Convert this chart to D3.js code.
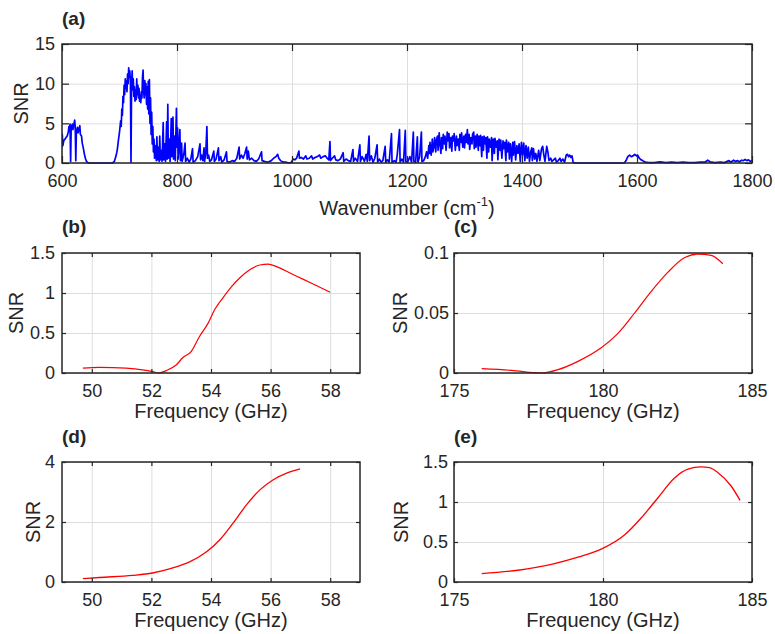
<!DOCTYPE html>
<html>
<head>
<meta charset="utf-8">
<script src="https://cdn.jsdelivr.net/npm/d3@7"></script>
<style>
  body { margin: 0; background: #fff; }
  text { font-family: "Liberation Sans", Arial, Helvetica, sans-serif; fill: #262626; }
</style>
</head>
<body>
<div id="chart"></div>
<script>
// ---- data ----
// (a) SNR spectrum vs wavenumber (cm-1)
const specA = [
  [600,2.0],[600.5,3.6],[601.5,2.2],[603,2.8],[605,3.0],[607,3.2],[609,3.4],[611,3.9],[612,4.6],[613,4.0],[614,4.9],[615,0.2],[616,4.5],[618,4.9],[619,4.2],[621,5.0],[622,5.4],[623,4.6],[624,0.3],[625,4.0],[627,4.5],[628,3.8],[630,4.4],[631,4.7],[632,3.6],[634,3.4],[635,2.6],[637,1.9],[639,1.1],[641,0.5],[643,0.15],[646,0],
  [660,0],[675,0],[688,0],[691,0.2],[694,0.9],[696,1.6],[698,2.8],[700,3.9],[702,5.3],[703,4.6],[704,6.8],[705,6.0],[706,8.4],[707,7.6],[708,9.8],[709,8.6],[710,10.6],[711,9.4],[712,10.3],[713,9.0],[714,11.2],[715,10.0],[716,12.0],[717,10.8],[718,11.6],[719,10.2],[720,0.1],[721,9.8],[722,11.6],[723,9.2],[724,10.6],[725,8.4],[726,9.6],[727,7.8],[728,9.2],[729,8.0],[730,10.6],[731,8.6],[732,9.8],[733,8.2],[734,9.4],[735,7.8],[736,8.6],[737,7.6],[738,9.0],[739,8.2],[740,10.8],[741,11.7],[742,9.0],[743,8.2],[744,10.4],[745,8.6],[746,10.0],[747,7.4],[748,9.6],[749,6.8],[750,10.3],[751,6.2],[752,10.5],[753,5.0],[754,8.2],[755,3.6],[756,6.4],[757,2.4],[758,4.6],[759,1.4],[760,3.0],[761,0.6],[763,2.2],[764,0.3],[765,3.3],[766,0.4],[768,2.0],[769,0.2],[770,3.4],[771,0.4],[773,1.6],[774,0.2],[776,5.1],[777,0.4],[779,2.4],[780,0.2],[782,5.2],[783,0.5],[784,7.4],[785,0.6],[787,3.0],[788,0.2],[790,5.6],[791,0.8],[793,5.8],[794,0.5],[796,3.4],[797,0.3],[799,6.9],[800,2.0],[801,4.4],[802,0.5],[804,2.8],[805,4.2],[806,0.3],[808,2.5],[809,0.2],[812,1.2],[814,2.5],[815,0.2],[818,0.6],[821,0.1],[824,0.5],[827,1.8],[828,0.1],[832,0.3],[836,0.8],[840,2.4],[841,0.4],[843,1.0],[845,0.3],[847,1.9],[848,0.2],[850,1.2],[852,4.6],[853,0.6],[855,1.0],[857,0.2],[860,0.4],[864,1.5],[865,0.2],[868,0.5],[872,1.9],[873,0.3],[876,0.8],[878,0.1],[882,0.4],[886,1.4],[887,0.2],[891,0.1],[896,0.3],[900,0.2],[904,0.6],[908,2.0],[909,0.5],[912,1.0],[915,0.6],[918,1.2],[921,2.0],[922,0.5],[924,1.5],[926,0.4],[930,0.6],[934,0.3],[938,0.2],[942,0.5],[947,1.4],[948,0.3],[952,0.2],[958,0.1],[964,0.3],[968,0.6],[972,0.8],[975,1.1],[977,0.6],[980,0.3],[985,0.1],[990,0.1],[995,0],[999,0.1],
  [1002,0.5],[1005,0.4],[1008,0.6],[1012,1.5],[1013,0.6],[1016,0.7],[1020,0.5],[1024,0.9],[1026,0.5],[1030,0.6],[1034,0.9],[1036,0.5],[1040,0.7],[1044,0.8],[1048,1.0],[1050,0.6],[1054,0.8],[1058,0.9],[1061,0.6],[1064,0.4],[1066,2.7],[1067,0.3],[1070,0.6],[1074,0.9],[1076,0.4],[1080,0.3],[1084,0.5],[1089,1.3],[1090,0.2],[1094,0.5],[1098,0.3],[1102,0.2],[1106,1.7],[1107,0.2],[1110,0.6],[1114,0.2],[1118,2.3],[1119,0.2],[1122,0.8],[1126,0.2],[1129,1.1],[1131,0.2],[1134,3.4],[1135,0.3],[1138,0.9],[1141,0.1],[1144,0.6],[1148,2.3],[1149,0.1],[1152,0.5],[1155,0.1],[1158,0.3],[1162,2.1],[1163,0.1],[1166,0.4],[1169,0.1],[1173,3.7],[1174,0.1],[1178,0.3],[1181,0.1],[1183,1.0],[1187,4.2],[1188,0.1],[1191,0.5],[1194,0.1],[1197,4.1],[1198,0.2],[1201,0.1],[1205,0.8],[1208,0.1],[1211,3.9],[1212,0.2],[1215,0.1],[1218,3.3],[1219,0.1],[1222,0.8],[1225,3.9],[1226,0.2],[1229,0.3],[1232,0.8],[1234,1.4],[1236,0.6],[1238,2.2],[1239,1.2],[1240,2.6],[1242,1.0],[1244,3.0],[1245,1.4],[1247,2.2],[1248,3.2],[1250,1.4],[1251,2.8],[1253,3.4],[1254,1.6],[1256,3.8],[1257,2.6],[1259,1.2],[1260,3.2],[1262,1.8],[1263,3.6],[1265,2.4],[1266,3.4],[1268,1.6],[1270,3.9],[1271,2.8],[1273,3.7],[1274,1.9],[1276,3.2],[1278,1.5],[1279,3.4],[1281,2.8],[1282,3.7],[1284,1.6],[1286,3.4],[1287,2.2],[1289,3.0],[1291,1.6],[1292,3.6],[1294,2.6],[1295,3.8],[1297,2.0],[1299,3.4],[1300,1.9],[1302,3.6],[1303,2.6],[1305,4.2],[1306,2.4],[1308,3.6],[1309,1.7],[1311,3.2],[1313,2.4],[1314,3.6],[1316,3.9],[1317,1.8],[1319,3.4],[1320,2.0],[1322,3.6],[1324,1.6],[1325,3.4],[1327,2.2],[1328,3.5],[1330,0.8],[1331,3.3],[1333,1.6],[1334,3.4],[1336,2.4],[1337,3.2],[1339,0.6],[1340,3.3],[1342,1.4],[1343,3.0],[1345,2.0],[1347,3.2],[1348,0.3],[1350,3.0],[1352,1.2],[1353,3.1],[1355,2.0],[1357,2.8],[1358,0.4],[1360,3.0],[1362,1.6],[1363,2.9],[1365,0.6],[1367,2.8],[1368,1.8],[1370,2.6],[1372,0.3],[1373,2.9],[1375,1.4],[1377,2.6],[1378,0.5],[1380,2.4],[1382,0.2],[1384,2.6],[1385,1.0],[1387,2.7],[1389,0.4],[1391,2.2],[1393,1.2],[1395,2.4],[1397,0.2],[1399,2.6],[1401,1.0],[1403,2.5],[1405,0.3],[1407,2.2],[1409,0.6],[1411,2.0],[1413,0.2],[1415,1.4],[1417,1.9],[1418,0.3],[1420,1.8],[1422,0.5],[1424,1.2],[1426,0.2],[1429,1.6],[1431,0.3],[1434,1.8],[1436,2.1],[1438,1.0],[1440,0.2],[1443,2.1],[1445,1.4],[1447,0.3],[1450,0.6],[1452,0.2],[1455,0.4],[1458,0.6],[1460,0.1],[1463,0.3],[1466,0.6],[1468,0.2],[1471,0.5],[1474,0.1],[1477,1.0],[1479,1.1],[1481,0.8],[1483,1.0],[1485,0.7],[1487,0.9],[1489,0.05],[1495,0],
  [1520,0],[1550,0],[1578,0],[1581,0.3],[1584,0.8],[1587,1.0],[1590,0.8],[1593,0.9],[1596,1.1],[1599,0.9],[1601,1.0],[1604,0.6],[1607,0.4],[1610,0.3],[1614,0.1],[1620,0.05],[1630,0.05],[1640,0.15],[1650,0.05],[1660,0.1],[1670,0.05],[1680,0.1],[1690,0.05],[1700,0.05],[1710,0.1],[1718,0.1],[1723,0.35],[1727,0.15],[1735,0.05],[1745,0.1],[1752,0.05],[1760,0.3],[1763,0.1],[1768,0.35],[1771,0.2],[1775,0.3],[1778,0.15],[1782,0.35],[1785,0.3],[1788,0.45],[1791,0.3],[1794,0.4],[1797,0.2],[1800,0.3]
];

// (b) 50-58 GHz band
const snrB = [
  [49.7,0.06],[50.25,0.07],[51.15,0.06],[51.7,0.04],[52.05,0.017],[52.25,0.0],[52.5,0.03],[52.83,0.10],
  [53.05,0.19],[53.34,0.27],[53.62,0.46],[53.9,0.62],[54.12,0.79],[54.4,0.94],[54.69,1.08],[54.97,1.19],
  [55.3,1.29],[55.64,1.35],[55.92,1.36],[56.2,1.33],[56.65,1.25],[57.1,1.17],[57.55,1.09],[58.0,1.01]
];
// (c) 176-184 GHz band
const snrC = [
  [175.93,0.0036],[176.93,0.0022],[177.94,0.0],[178.49,0.0028],[179.16,0.0097],[179.94,0.021],
  [180.5,0.033],[181.06,0.05],[181.62,0.068],[182.18,0.084],[182.73,0.096],[183.18,0.099],
  [183.63,0.098],[184.02,0.091]
];
// (d) 50-57 GHz band
const snrD = [
  [49.7,0.11],[50.25,0.15],[51.37,0.22],[52.04,0.30],[52.72,0.47],[53.28,0.67],[53.84,1.0],
  [54.29,1.40],[54.74,1.96],[55.19,2.57],[55.64,3.07],[56.09,3.41],[56.54,3.63],[56.99,3.77]
];
// (e) 176-184.6 GHz band
const snrE = [
  [175.93,0.105],[177.15,0.147],[178.27,0.22],[179.16,0.31],[179.94,0.41],[180.73,0.59],
  [181.28,0.80],[181.84,1.05],[182.4,1.30],[182.85,1.41],[183.29,1.44],[183.57,1.43],
  [183.85,1.37],[184.3,1.20],[184.6,1.02]
];

// tick values
const wnTicks = [600, 800, 1000, 1200, 1400, 1600, 1800];
const ghz50Ticks = [50, 52, 54, 56, 58];
const ghz180Ticks = [175, 180, 185];

// ---- layout ----
const width = 775, height = 634;
const svg = d3.select("#chart").append("svg")
  .attr("width", width)
  .attr("height", height);

svg.append("rect").attr("width", width).attr("height", height).attr("fill", "#fff");

function drawPanel(p) {
  const g = svg.append("g").attr("transform", "translate(" + p.left + "," + p.top + ")");
  const x = d3.scaleLinear().domain(p.xDomain).range([0, p.w]);
  const y = d3.scaleLinear().domain(p.yDomain).range([p.h, 0]);

  // grid
  g.append("g")
    .attr("transform", "translate(0," + p.h + ")")
    .call(d3.axisBottom(x).tickValues(p.xTicks).tickSize(-p.h).tickFormat(""))
    .call(s => s.select(".domain").remove())
    .call(s => s.selectAll("line").attr("stroke", "#dedede").attr("stroke-width", 1));
  g.append("g")
    .call(d3.axisLeft(y).tickValues(p.yTicks).tickSize(-p.w).tickFormat(""))
    .call(s => s.select(".domain").remove())
    .call(s => s.selectAll("line").attr("stroke", "#dedede").attr("stroke-width", 1));

  // data line
  const clipId = "clip-" + p.name;
  g.append("clipPath").attr("id", clipId)
    .append("rect").attr("width", p.w).attr("height", p.h + 2).attr("y", -1);
  g.append("path")
    .datum(p.data)
    .attr("clip-path", "url(#" + clipId + ")")
    .attr("fill", "none")
    .attr("stroke", p.color)
    .attr("stroke-width", p.lw)
    .attr("stroke-linejoin", "round")
    .attr("d", d3.line().curve(p.curve || d3.curveLinear).x(d => x(d[0])).y(d => y(d[1])));

  // axes (ticks pointing inward, MATLAB style)
  const fmt = d => String(+d);
  const styleAxis = s => {
    s.select(".domain").remove();
    s.selectAll("line").attr("stroke", "#262626").attr("stroke-width", 1.2);
    s.selectAll("text").style("font-size", "18px").attr("fill", "#262626")
      .style("font-family", "'Liberation Sans', Arial, Helvetica, sans-serif");
  };
  g.append("g")
    .attr("transform", "translate(0," + p.h + ")")
    .call(d3.axisBottom(x).tickValues(p.xTicks).tickSize(-p.tick).tickPadding(11).tickFormat(fmt))
    .call(styleAxis);
  g.append("g")
    .call(d3.axisTop(x).tickValues(p.xTicks).tickSize(-p.tick).tickFormat(""))
    .call(styleAxis);
  g.append("g")
    .call(d3.axisLeft(y).tickValues(p.yTicks).tickSize(-p.tick).tickPadding(p.yPad).tickFormat(fmt))
    .call(styleAxis);
  g.append("g")
    .attr("transform", "translate(" + p.w + ",0)")
    .call(d3.axisRight(y).tickValues(p.yTicks).tickSize(-p.tick).tickFormat(""))
    .call(styleAxis);

  // box
  g.append("rect")
    .attr("width", p.w).attr("height", p.h)
    .attr("fill", "none").attr("stroke", "#262626").attr("stroke-width", 1.5);

  // panel letter
  svg.append("text")
    .attr("x", p.left).attr("y", p.titleY)
    .style("font-size", "19px").style("font-weight", "bold")
    .attr("fill", "#000")
    .text(p.title);

  // x label
  const xl = svg.append("text")
    .attr("x", p.left + p.w / 2).attr("y", p.xLabelY)
    .attr("text-anchor", "middle")
    .style("font-size", "20px");
  if (p.sup) {
    xl.append("tspan").text(p.xLabel);
    xl.append("tspan").attr("dy", -9).style("font-size", "13px").text(p.sup);
    xl.append("tspan").attr("dy", 9).text(")");
  } else {
    xl.text(p.xLabel);
  }

  // y label
  svg.append("text")
    .attr("transform", "translate(" + p.yLabelX + "," + (p.top + p.h / 2) + ") rotate(-90)")
    .attr("text-anchor", "middle")
    .style("font-size", "20px")
    .text("SNR");
}

drawPanel({ name: "a", left: 62, top: 44, w: 690, h: 119, xDomain: [600, 1800], xTicks: wnTicks,
  yDomain: [0, 15], yTicks: [0, 5, 10, 15], data: specA, color: "#0000ff", lw: 1.7, tick: 7, yPad: 7,
  title: "(a)", titleY: 25, xLabel: "Wavenumber (cm", sup: "-1", xLabelY: 215, yLabelX: 28 });

drawPanel({ name: "b", left: 62, top: 253, w: 298, h: 120, xDomain: [49, 59], xTicks: ghz50Ticks,
  yDomain: [0, 1.5], yTicks: [0, 0.5, 1, 1.5], data: snrB, color: "#ff0000", lw: 1.2, tick: 4, yPad: 7,
  curve: d3.curveMonotoneX,
  title: "(b)", titleY: 233, xLabel: "Frequency (GHz)", xLabelY: 418, yLabelX: 23 });

drawPanel({ name: "c", left: 454, top: 253, w: 298, h: 120, xDomain: [175, 185], xTicks: ghz180Ticks,
  yDomain: [0, 0.1], yTicks: [0, 0.05, 0.1], data: snrC, color: "#ff0000", lw: 1.2, tick: 4, yPad: 5,
  curve: d3.curveMonotoneX,
  title: "(c)", titleY: 233, xLabel: "Frequency (GHz)", xLabelY: 418, yLabelX: 407 });

drawPanel({ name: "d", left: 62, top: 462, w: 298, h: 120, xDomain: [49, 59], xTicks: ghz50Ticks,
  yDomain: [0, 4], yTicks: [0, 2, 4], data: snrD, color: "#ff0000", lw: 1.3, tick: 4, yPad: 7,
  curve: d3.curveMonotoneX,
  title: "(d)", titleY: 443, xLabel: "Frequency (GHz)", xLabelY: 627, yLabelX: 40 });

drawPanel({ name: "e", left: 454, top: 462, w: 298, h: 120, xDomain: [175, 185], xTicks: ghz180Ticks,
  yDomain: [0, 1.5], yTicks: [0, 0.5, 1, 1.5], data: snrE, color: "#ff0000", lw: 1.3, tick: 4, yPad: 6,
  curve: d3.curveMonotoneX,
  title: "(e)", titleY: 443, xLabel: "Frequency (GHz)", xLabelY: 627, yLabelX: 408 });
</script>
</body>
</html>
